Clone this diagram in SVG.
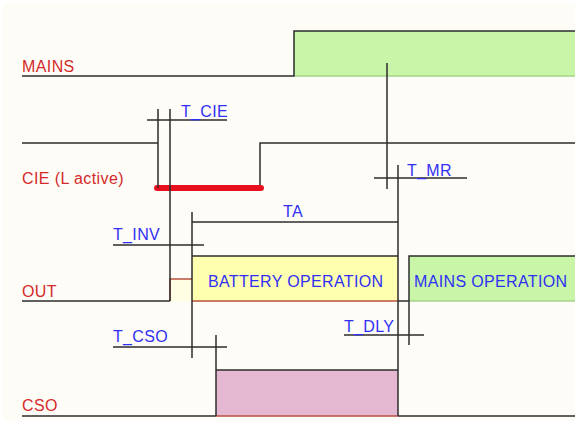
<svg xmlns="http://www.w3.org/2000/svg" width="575" height="421" viewBox="0 0 575 421">
<style>
.bg{fill:#fefcf7}
.ln{stroke:#2c2c2c;stroke-width:1.5;fill:none}
.rb{stroke:#b85040;stroke-width:1.5;fill:none}
.gb{stroke:#a4d48a;stroke-width:1.5;fill:none}
.sig{font-family:"Liberation Sans",Arial,sans-serif;font-size:16px;letter-spacing:0.4px;fill:#d42a2a}
.lbl{font-family:"Liberation Sans",Arial,sans-serif;font-size:16px;letter-spacing:0.35px;fill:#3030f4}
</style>
<rect x="0" y="0" width="575" height="421" fill="#ffffff"/>
<rect class="bg" x="3" y="3" width="572" height="418"/>

<g id="mains">
  <rect x="294" y="31" width="281" height="45" fill="#c8f5a8"/>
  <line class="gb" x1="294" y1="76" x2="575" y2="76"/>
  <polyline class="ln" points="22,76 294,76 294,31 575,31"/>
  <text class="sig" x="22" y="72">MAINS</text>
</g>

<g id="cie">
  <polyline class="ln" points="22,143 158,143"/>
  <polyline class="ln" points="260,188 260,143 575,143"/>
  <line x1="157" y1="188" x2="261" y2="188" stroke="#e8101e" stroke-width="6" stroke-linecap="round"/>
  <text class="sig" x="22" y="184">CIE (L active)</text>
</g>

<g id="out">
  <rect x="170" y="279" width="22" height="22" fill="#fffde2"/>
  <polyline class="rb" points="170,301 170,279 192,279"/>
  <rect x="192" y="256" width="206" height="45" fill="#ffffb0"/>
  <line class="rb" x1="192" y1="301" x2="398" y2="301"/>
  <line class="ln" x1="192" y1="256" x2="398" y2="256"/>
  <text class="lbl" x="208" y="286.5">BATTERY OPERATION</text>
  <rect x="409" y="256" width="166" height="45" fill="#c8f5a8"/>
  <line class="gb" x1="409" y1="301" x2="575" y2="301"/>
  <polyline class="ln" points="409,301 409,256 575,256"/>
  <text class="lbl" x="414" y="286.5">MAINS OPERATION</text>
  <line class="ln" x1="22" y1="301" x2="170" y2="301"/>
  <line class="ln" x1="398" y1="301" x2="409" y2="301"/>
  <text class="sig" x="22" y="297">OUT</text>
</g>

<g id="cso">
  <rect x="216" y="370" width="182" height="46" fill="#e4b8d0"/>
  <line class="ln" x1="216" y1="370" x2="398" y2="370"/>
  <line class="rb" x1="216" y1="416" x2="398" y2="416"/>
  <line class="ln" x1="22" y1="416" x2="216" y2="416"/>
  <line class="ln" x1="398" y1="416" x2="575" y2="416"/>
  <text class="sig" x="22" y="411">CSO</text>
</g>

<g id="connectors">
  <line class="ln" x1="158" y1="109" x2="158" y2="188"/>
  <line class="ln" x1="170" y1="109" x2="170" y2="301"/>
  <line class="ln" x1="192" y1="212" x2="192" y2="358"/>
  <line class="ln" x1="216" y1="335" x2="216" y2="416"/>
  <line class="ln" x1="387" y1="63" x2="387" y2="189"/>
  <line class="ln" x1="398" y1="165" x2="398" y2="416"/>
  <line class="ln" x1="409" y1="301" x2="409" y2="345"/>
  <line class="ln" x1="147" y1="120" x2="227" y2="120"/>
  <line class="ln" x1="192" y1="222" x2="398" y2="222"/>
  <line class="ln" x1="374" y1="178" x2="467" y2="178"/>
  <line class="ln" x1="113" y1="245" x2="204" y2="245"/>
  <line class="ln" x1="113" y1="347" x2="227" y2="347"/>
  <line class="ln" x1="344" y1="335" x2="424" y2="335"/>
</g>

<g id="labels">
  <text class="lbl" x="181" y="117">T_CIE</text>
  <text class="lbl" x="283" y="217">TA</text>
  <text class="lbl" x="407" y="176">T_MR</text>
  <text class="lbl" x="113" y="240">T_INV</text>
  <text class="lbl" x="113" y="342">T_CSO</text>
  <text class="lbl" x="344" y="332">T_DLY</text>
</g>
</svg>
